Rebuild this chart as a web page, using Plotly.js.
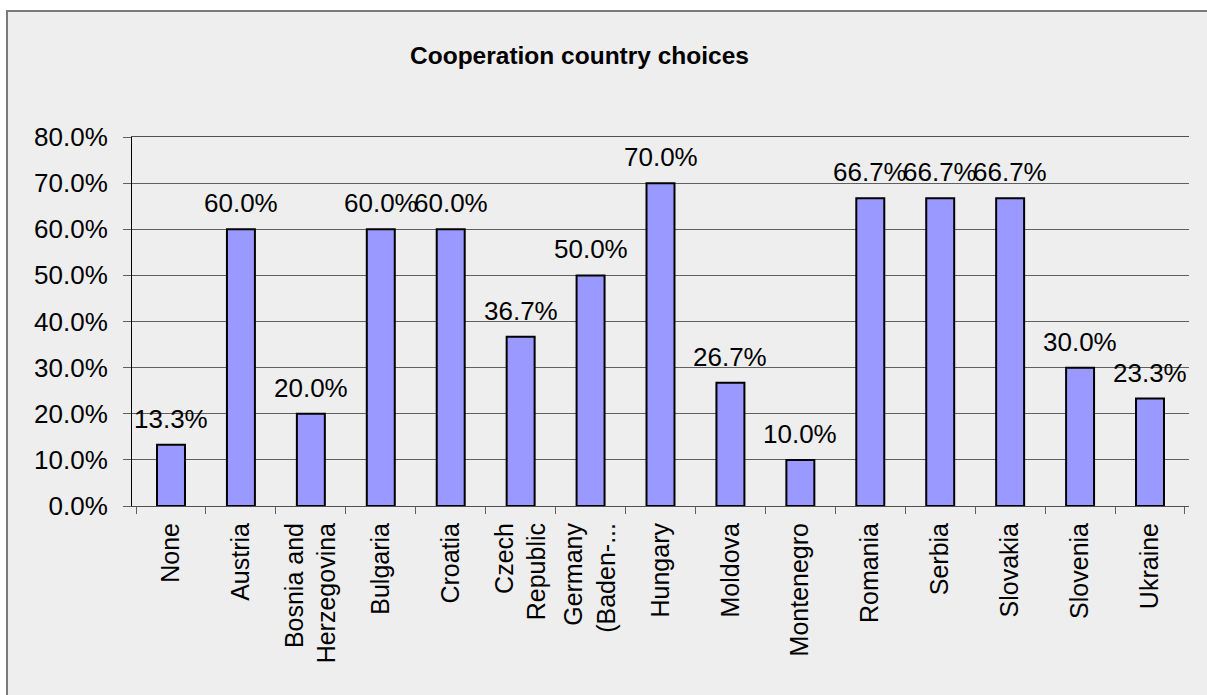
<!DOCTYPE html>
<html>
<head>
<meta charset="utf-8">
<script src="https://cdn.plot.ly/plotly-3.0.1.min.js"></script>
<style>
  html, body { margin: 0; padding: 0; background: #ffffff; width: 1207px; height: 695px; overflow: hidden; }
  #frame { position: absolute; left: 6px; top: 10px; width: 1300px; height: 800px; background: #eeeeee;
           border-left: 2px solid #7a7a7a; border-top: 2px solid #7a7a7a; }
  #chart { position: absolute; left: 0; top: 0; width: 1207px; height: 695px; }
</style>
</head>
<body>
<div id="frame"></div>
<div id="chart"></div>
<script>
const chartTitle = 'Cooperation country choices';
const categories = ['None', 'Austria', 'Bosnia and<br>Herzegovina', 'Bulgaria', 'Croatia', 'Czech<br>Republic',
  'Germany<br>(Baden-...', 'Hungary', 'Moldova', 'Montenegro', 'Romania', 'Serbia', 'Slovakia', 'Slovenia', 'Ukraine'];
const shares = [0.133, 0.600, 0.200, 0.600, 0.600, 0.367, 0.500, 0.700, 0.267, 0.100, 0.667, 0.667, 0.667, 0.300, 0.233];
const yTickValues = [0, 0.1, 0.2, 0.3, 0.4, 0.5, 0.6, 0.7, 0.8];

const numFont = { family: 'Liberation Sans Narrow, Liberation Sans, Arial, sans-serif', size: 26, color: '#000000' };

const trace = {
  type: 'bar',
  x: categories,
  y: shares,
  marker: { color: '#9999ff', line: { color: '#000000', width: 2 } },
  hoverinfo: 'x+y'
};

const annotations = categories.map((c, i) => ({
  x: c, y: shares[i], xref: 'x', yref: 'y',
  text: (shares[i] * 100).toFixed(1) + '%',
  showarrow: false, yanchor: 'bottom', xanchor: 'center', yshift: 9,
  font: numFont
}));

const layout = {
  width: 1207, height: 695,
  margin: { l: 132, r: 18, t: 137, b: 189, pad: 0 },
  paper_bgcolor: 'rgba(0,0,0,0)',
  plot_bgcolor: 'rgba(0,0,0,0)',
  showlegend: false,
  bargap: 0.6,
  title: {
    text: chartTitle,
    font: { family: 'Liberation Sans, Arial, sans-serif', size: 24.5, color: '#000000', weight: 'bold' },
    x: 579.5 / 1207, xanchor: 'center', xref: 'container',
    y: 1 - 55 / 695, yanchor: 'middle', yref: 'container'
  },
  xaxis: {
    type: 'category',
    tickangle: -90,
    ticks: 'outside', tickson: 'boundaries', ticklen: 7, tickcolor: '#606060', tickwidth: 1,
    showline: true, linecolor: '#505050', linewidth: 1, mirror: true,
    showgrid: false,
    tickfont: { family: 'Liberation Sans, Arial, sans-serif', size: 25, color: '#000000' },
    ticklabelstandoff: 6,
    automargin: false
  },
  yaxis: {
    range: [0, 0.8],
    tickvals: yTickValues,
    tickformat: '.1%',
    ticks: 'outside', ticklen: 8, tickcolor: '#606060', tickwidth: 1,
    showline: true, linecolor: '#000000', linewidth: 1,
    showgrid: true, gridcolor: '#606060', gridwidth: 1,
    zeroline: false,
    tickfont: numFont,
    ticklabelstandoff: 10,
    automargin: false
  },
  annotations: annotations
};

Plotly.newPlot('chart', [trace], layout, { displayModeBar: false, staticPlot: true });
</script>
</body>
</html>
